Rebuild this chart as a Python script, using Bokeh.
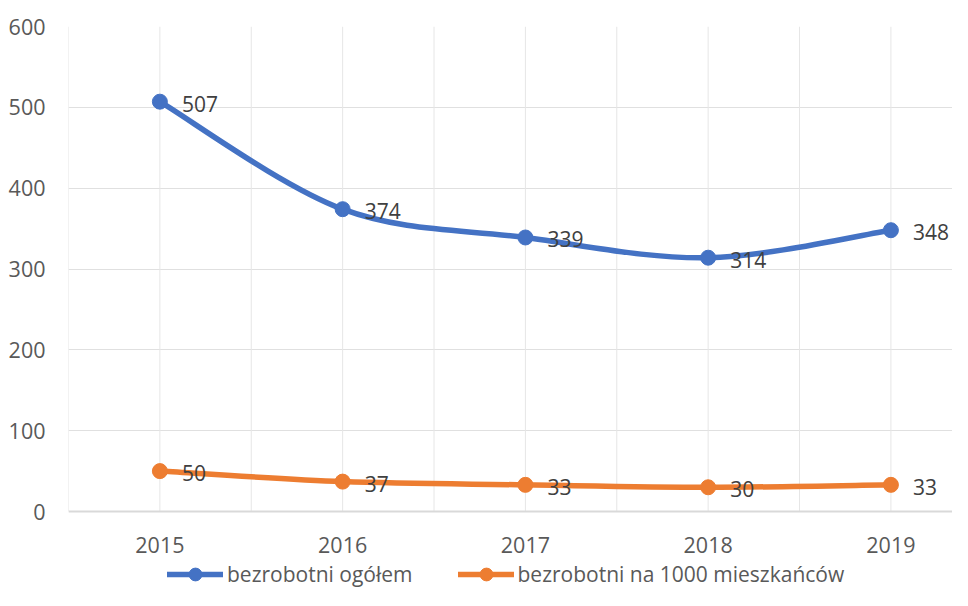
from bokeh.plotting import figure
from bokeh.models import (ColumnDataSource, FixedTicker, Legend, LegendItem, Range1d, Span)
from bokeh.embed import file_html
from bokeh.resources import INLINE

years = [2015, 2016, 2017, 2018, 2019]
year_labels = ["2015", "2016", "2017", "2018", "2019"]
total = [507, 374, 339, 314, 348]
per_1000 = [50, 37, 33, 30, 33]
series_names = ["bezrobotni ogółem", "bezrobotni na 1000 mieszkańców"]
colors = ["#4472C4", "#ED7D31"]
y_ticks = [0, 100, 200, 300, 400, 500, 600]

FONT = "Open Sans"
Y_TOP = 600
Y_BOTTOM = -97.7  # room below the axis for category labels and legend

p = figure(width=952, height=590, output_backend="svg", toolbar_location=None,
           x_range=Range1d(2014.5, 2019.337), y_range=Range1d(Y_BOTTOM, Y_TOP),
           min_border_left=68, min_border_top=26, min_border_right=0,
           min_border_bottom=0)
p.outline_line_color = None
p.background_fill_color = "white"
p.border_fill_color = "white"

# y axis
p.yaxis.ticker = FixedTicker(ticks=y_ticks)
p.yaxis.major_tick_line_color = None
p.yaxis.minor_tick_line_color = None
p.yaxis.axis_line_color = None
p.yaxis.major_label_text_font = FONT
p.yaxis.major_label_text_font_size = "21.5px"
p.yaxis.major_label_text_color = "#595959"
p.yaxis.major_label_standoff = 17
p.xaxis.visible = False

# grid
p.xgrid.visible = False
p.ygrid.ticker = FixedTicker(ticks=y_ticks[1:])
p.ygrid.grid_line_color = "#e0e0e0"
p.ygrid.grid_line_width = 1

grid_x = sorted(set([y - 0.5 for y in years] + years + [years[-1] + 0.5]))
p.segment(x0=grid_x, x1=grid_x, y0=[y_ticks[0]] * len(grid_x),
          y1=[y_ticks[-1]] * len(grid_x), line_color="#e6e6e6", line_width=1)

# category axis line and labels
p.add_layout(Span(location=0, dimension="width", line_color="#d9d9d9", line_width=2))
p.text(x=years, y=[0] * len(years), text=year_labels, y_offset=33,
       text_align="center", text_baseline="middle",
       text_font={"value": FONT}, text_font_size="21.5px", text_color="#595959")


def smooth_segments(xs, ys):
    n = len(xs)
    d = dict(x0=[], y0=[], x1=[], y1=[], cx0=[], cy0=[], cx1=[], cy1=[])
    for i in range(n - 1):
        xp, yp = (xs[i - 1], ys[i - 1]) if i > 0 else (xs[i], ys[i])
        xn, yn = (xs[i + 2], ys[i + 2]) if i + 2 < n else (xs[i + 1], ys[i + 1])
        d["x0"].append(xs[i]); d["y0"].append(ys[i])
        d["x1"].append(xs[i + 1]); d["y1"].append(ys[i + 1])
        d["cx0"].append(xs[i] + (xs[i + 1] - xp) / 6)
        d["cy0"].append(ys[i] + (ys[i + 1] - yp) / 6)
        d["cx1"].append(xs[i + 1] - (xn - xs[i]) / 6)
        d["cy1"].append(ys[i + 1] - (yn - ys[i]) / 6)
    return ColumnDataSource(d)


items = []
for vals, name, col in zip([total, per_1000], series_names, colors):
    src = ColumnDataSource(dict(x=years, y=vals, lbl=[str(v) for v in vals]))
    bz = p.bezier(x0="x0", y0="y0", x1="x1", y1="y1", cx0="cx0", cy0="cy0",
                  cx1="cx1", cy1="cy1", source=smooth_segments(years, vals),
                  line_color=col, line_width=5.5, line_cap="round")
    sc = p.scatter(x="x", y="y", source=src, size=15, fill_color=col,
                   line_color=col, marker="circle")
    p.text(x="x", y="y", text="lbl", source=src, x_offset=22, y_offset=2,
           text_align="left", text_baseline="middle",
           text_font={"value": FONT}, text_font_size="21px", text_color="#404040")
    items.append(LegendItem(label=name, renderers=[bz, sc]))

legend = Legend(items=items, orientation="horizontal", location=(99, 0),
                padding=0, margin=0, spacing=45, glyph_width=56, glyph_height=32,
                label_standoff=4, label_text_font=FONT, label_text_font_size="21px",
                label_text_color="#595959", border_line_color=None,
                background_fill_alpha=0)
p.add_layout(legend)

open("out.html", "w").write(file_html(p, INLINE))
